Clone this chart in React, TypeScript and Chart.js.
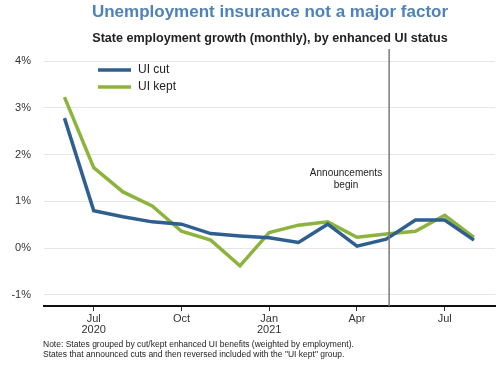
import React, { useEffect, useRef } from "react";
import { Chart, registerables } from "chart.js";

Chart.register(...registerables);

// month index 0 = Jun 2020 ... 14 = Aug 2021
const months = ["Jun 2020","Jul 2020","Aug 2020","Sep 2020","Oct 2020","Nov 2020","Dec 2020","Jan 2021","Feb 2021","Mar 2021","Apr 2021","May 2021","Jun 2021","Jul 2021","Aug 2021"];
const uiCut = [2.78, 0.80, 0.67, 0.56, 0.51, 0.31, 0.26, 0.22, 0.12, 0.51, 0.04, 0.19, 0.60, 0.60, 0.17];
const uiKept = [3.23, 1.72, 1.20, 0.90, 0.36, 0.17, -0.38, 0.33, 0.49, 0.56, 0.23, 0.30, 0.36, 0.70, 0.23];
const xTickPositions = [1, 4, 7, 10, 13];
const xTickLabels = [["Jul", "2020"], ["Oct"], ["Jan", "2021"], ["Apr"], ["Jul"]];
const yTicks = [-1, 0, 1, 2, 3, 4];
const announcementX = 11.1;
const titleText = "Unemployment insurance not a major factor";
const subtitleText = "State employment growth (monthly), by enhanced UI status";
const noteLines = [
  "Note: States grouped by cut/kept enhanced UI benefits (weighted by employment).",
  "States that announced cuts and then reversed included with the \"UI kept\" group.",
];

const BLUE = "#2e5f8f";
const GREEN = "#8cb43c";
const FONT = "'Liberation Sans', Arial, sans-serif";

export default function App() {
  const ref = useRef<HTMLCanvasElement | null>(null);
  useEffect(() => {
    document.body.style.margin = "0";
    const canvas = ref.current!;
    const overlay = {
      id: "overlay",
      afterDatasetsDraw(chart: any) {
        const ctx = chart.ctx;
        const { chartArea, scales } = chart;
        ctx.save();
        const vx = scales.x.getPixelForValue(announcementX);
        ctx.strokeStyle = "#7a7a7a";
        ctx.lineWidth = 1.5;
        ctx.beginPath();
        ctx.moveTo(vx, 49);
        ctx.lineTo(vx, chartArea.bottom);
        ctx.stroke();
        ctx.fillStyle = "#222";
        ctx.font = `10px ${FONT}`;
        ctx.textAlign = "center";
        ctx.textBaseline = "middle";
        ctx.fillText("Announcements", 346, 173);
        ctx.fillText("begin", 346, 185.5);
        const items = [
          { label: "UI cut", color: BLUE, y: 70 },
          { label: "UI kept", color: GREEN, y: 87 },
        ];
        ctx.lineWidth = 3.5;
        ctx.font = `12px ${FONT}`;
        ctx.textAlign = "left";
        items.forEach((it) => {
          ctx.strokeStyle = it.color;
          ctx.beginPath();
          ctx.moveTo(98, it.y);
          ctx.lineTo(131, it.y);
          ctx.stroke();
          ctx.fillStyle = "#222";
          ctx.fillText(it.label, 138, it.y);
        });
        ctx.restore();
      },
      afterDraw(chart: any) {
        const ctx = chart.ctx;
        ctx.save();
        ctx.textAlign = "center";
        ctx.textBaseline = "middle";
        ctx.fillStyle = "#4f81bd";
        ctx.font = `bold 17px ${FONT}`;
        ctx.fillText(titleText, 270, 12);
        ctx.fillStyle = "#222";
        ctx.font = `bold 12.6px ${FONT}`;
        ctx.fillText(subtitleText, 270, 39);
        ctx.textAlign = "left";
        ctx.fillStyle = "#222";
        ctx.font = `8.5px ${FONT}`;
        ctx.fillText(noteLines[0], 43, 345);
        ctx.fillText(noteLines[1], 43, 354.5);
        ctx.restore();
      },
    };
    const chart = new Chart(canvas, {
      type: "line",
      data: {
        labels: months,
        datasets: [
          {
            label: "UI cut",
            data: uiCut.map((v, i) => ({ x: i, y: v })),
            borderColor: BLUE,
            borderWidth: 3.5,
            pointRadius: 0,
            tension: 0,
          },
          {
            label: "UI kept",
            data: uiKept.map((v, i) => ({ x: i, y: v })),
            borderColor: GREEN,
            borderWidth: 3.5,
            pointRadius: 0,
            tension: 0,
          },
        ],
      },
      options: {
        animation: false,
        responsive: false,
        maintainAspectRatio: false,
        layout: { padding: { top: 55, right: 5, left: 0, bottom: 0 } },
        plugins: { legend: { display: false }, title: { display: false }, tooltip: { enabled: false } },
        scales: {
          x: {
            type: "linear",
            min: -0.7,
            max: 14.72,
            afterBuildTicks: (s: any) => {
              s.ticks = xTickPositions.map((v) => ({ value: v }));
            },
            afterFit: (s: any) => {
              s.height = 59;
            },
            ticks: {
              autoSkip: false,
              maxRotation: 0,
              padding: 2,
              color: "#333",
              font: { family: FONT, size: 11, lineHeight: 1.0 },
              callback: (v: any) => {
                const idx = xTickPositions.indexOf(Number(v));
                return idx >= 0 ? xTickLabels[idx] : "";
              },
            },
            grid: { drawOnChartArea: false, drawTicks: true, tickLength: 5, color: "#333" },
            border: { display: true, color: "#111", width: 2 },
          },
          y: {
            min: -1.24,
            max: 4.13,
            afterBuildTicks: (s: any) => {
              s.ticks = yTicks.map((v) => ({ value: v }));
            },
            afterFit: (s: any) => {
              s.width = 44;
            },
            ticks: {
              padding: 13,
              color: "#333",
              font: { family: FONT, size: 11 },
              callback: (v: any) => `${v}%`,
            },
            grid: { color: "#e6e6e6", lineWidth: 1, drawTicks: false },
            border: { display: false },
          },
        },
      },
      plugins: [overlay],
    } as any);
    return () => chart.destroy();
  }, []);
  return (
    <div style={{ position: "absolute", left: 0, top: 0, width: 500, height: 365 }}>
      <canvas ref={ref} width={500} height={365} style={{ width: 500, height: 365, display: "block" }} />
    </div>
  );
}
